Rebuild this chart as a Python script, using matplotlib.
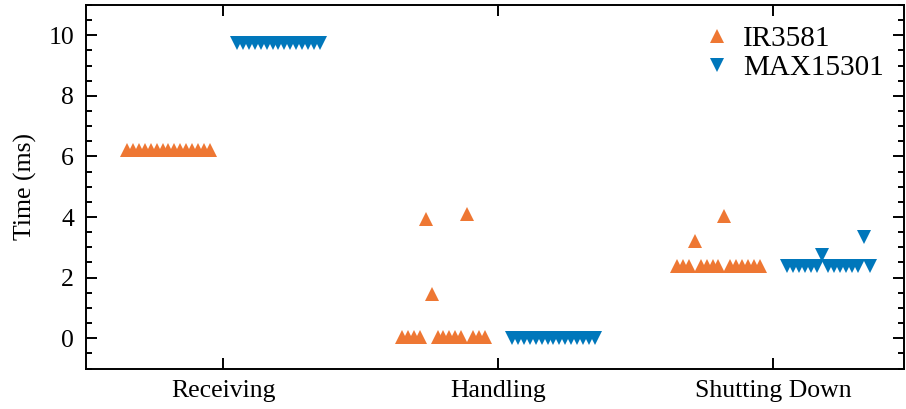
import numpy as np
import matplotlib
matplotlib.use("Agg")
from matplotlib import pyplot as plt
from matplotlib.ticker import MultipleLocator

plt.rcParams['font.family'] = ['Liberation Serif', 'DejaVu Serif']
plt.rcParams['mathtext.fontset'] = 'stix'

phases = ['Receiving', 'Handling', 'Shutting Down']
series = ['IR3581', 'MAX15301']
colors = ['#EE7733', '#0077BB']
markers = ['^', 'v']

# measured times (ms), one value per run, in run order
ir3581 = {
    'Receiving': [6.2] * 15,
    'Handling': [0.05, 0.05, 0.05, 0.05, 3.95, 1.45, 0.05, 0.05, 0.05, 0.05,
                 0.05, 4.1, 0.05, 0.05, 0.05],
    'Shutting Down': [2.4, 2.4, 2.4, 3.22, 2.4, 2.4, 2.4, 2.4, 4.05, 2.4,
                      2.4, 2.4, 2.4, 2.4, 2.4],
}
max15301 = {
    'Receiving': [9.75] * 15,
    'Handling': [0.0] * 15,
    'Shutting Down': [2.4, 2.4, 2.4, 2.4, 2.4, 2.4, 2.75, 2.4, 2.4, 2.4,
                      2.4, 2.4, 2.4, 3.35, 2.4],
}
data = [ir3581, max15301]

fig = plt.figure(figsize=(9.06, 4.09), dpi=100)
ax = fig.add_axes([86 / 906, 1 - 368.5 / 409, (904 - 86) / 906, 363.5 / 409])

dodge = [-0.2, 0.2]
for s, name in enumerate(series):
    for i, ph in enumerate(phases):
        vals = np.array(data[s][ph])
        xs = i + dodge[s] + np.linspace(-0.15, 0.15, len(vals))
        ax.plot(xs, vals, linestyle='none', marker=markers[s], color=colors[s],
                markersize=9.5, markeredgewidth=0,
                label=name if i == 0 else None)

ax.set_xlim(-0.5, 2.475)
ax.set_ylim(-1, 11)
ax.set_xticks(range(len(phases)))
ax.set_xticklabels(phases)
ax.yaxis.set_major_locator(MultipleLocator(2))
ax.yaxis.set_minor_locator(MultipleLocator(0.5))
ax.set_ylabel('Time (ms)', fontsize=18.5, labelpad=8)

for sp in ax.spines.values():
    sp.set_linewidth(1.4)
ax.tick_params(which='both', direction='in', top=True, right=True,
               labelsize=18.5, width=1.4, pad=8.5)
ax.tick_params(which='major', length=7.7)
ax.tick_params(which='minor', length=4)
ax.tick_params(axis='x', which='minor', top=False, bottom=False)

ax.legend(loc='upper right', frameon=False, fontsize=21, numpoints=1,
          handlelength=0.8, handletextpad=0.5, labelspacing=0.1,
          borderaxespad=0.3)

fig.savefig('out.png', dpi=100)
